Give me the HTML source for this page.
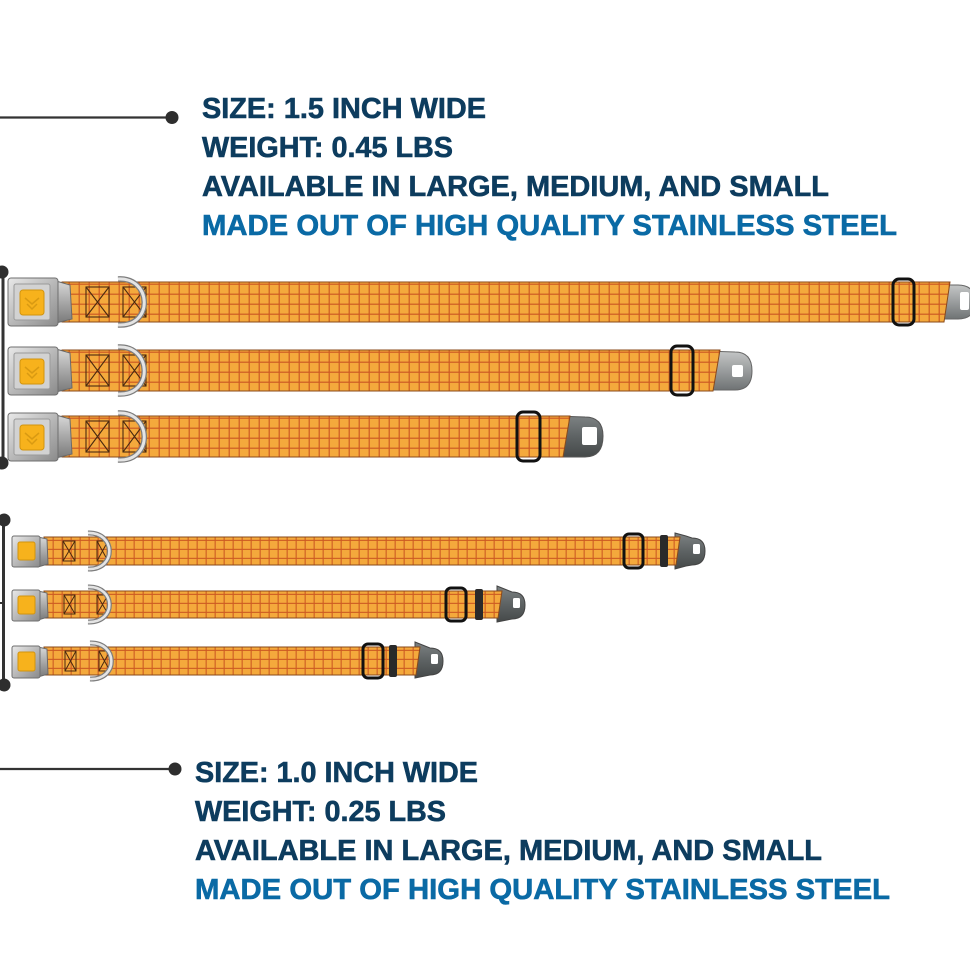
<!DOCTYPE html>
<html><head><meta charset="utf-8">
<style>
html,body{margin:0;padding:0;background:#fff;}
svg{display:block;}
.t{font-family:"Liberation Sans",sans-serif;font-weight:bold;font-size:29px;stroke-width:0.6px;}
.n{fill:#0d3c5e;stroke:#0d3c5e;}
.b{fill:#0a6aa5;stroke:#0a6aa5;}
</style></head>
<body>
<svg width="970" height="971" viewBox="0 0 970 971" xmlns="http://www.w3.org/2000/svg">
<defs>
  <pattern id="gL" width="10" height="10" patternUnits="userSpaceOnUse">
    <rect width="10" height="10" fill="#f4a93c"/>
    <rect x="8.6" width="1.2" height="10" fill="#cd5a22"/>
    <rect y="1.6" width="10" height="1.2" fill="#cd5a22"/>
  </pattern>
  <pattern id="gS" width="9" height="9" patternUnits="userSpaceOnUse">
    <rect width="9" height="9" fill="#f4a93c"/>
    <rect x="7.6" width="1.1" height="9" fill="#cd5a22"/>
    <rect y="2.8" width="9" height="1.1" fill="#cd5a22"/>
  </pattern>
  <linearGradient id="metal" x1="0" y1="0" x2="1" y2="1">
    <stop offset="0" stop-color="#e9e9e9"/>
    <stop offset="0.5" stop-color="#b9b9b9"/>
    <stop offset="1" stop-color="#8a8a8a"/>
  </linearGradient>
  <linearGradient id="metal2" x1="0" y1="0" x2="0" y2="1">
    <stop offset="0" stop-color="#d8d8d8"/>
    <stop offset="0.5" stop-color="#a8a8a8"/>
    <stop offset="1" stop-color="#7a7a7a"/>
  </linearGradient>
  <linearGradient id="tabL" x1="0" y1="0" x2="0" y2="1">
    <stop offset="0" stop-color="#c4c6c6"/>
    <stop offset="0.5" stop-color="#9a9d9e"/>
    <stop offset="1" stop-color="#6f7374"/>
  </linearGradient>
  <linearGradient id="tabD" x1="0" y1="0" x2="0" y2="1">
    <stop offset="0" stop-color="#7d8283"/>
    <stop offset="0.5" stop-color="#5e6364"/>
    <stop offset="1" stop-color="#454949"/>
  </linearGradient>
</defs>

<!-- Leader lines -->
<line x1="0" y1="117.5" x2="172" y2="117.5" stroke="#333" stroke-width="2.2"/>
<circle cx="172" cy="117.5" r="6.5" fill="#2e2e2e"/>
<line x1="0" y1="769" x2="175" y2="769" stroke="#333" stroke-width="2.2"/>
<circle cx="175" cy="769" r="6.5" fill="#2e2e2e"/>

<!-- Brackets -->
<line x1="3" y1="272" x2="3" y2="463" stroke="#333" stroke-width="3"/>
<circle cx="2" cy="272" r="6.5" fill="#2e2e2e"/>
<circle cx="2" cy="463" r="6.5" fill="#2e2e2e"/>
<line x1="3.5" y1="520" x2="3.5" y2="685" stroke="#333" stroke-width="3"/>
<circle cx="4" cy="520" r="6.5" fill="#2e2e2e"/>
<circle cx="4" cy="685" r="6.5" fill="#2e2e2e"/>
<line x1="0" y1="603" x2="5" y2="603" stroke="#333" stroke-width="2"/>

<!-- Text block 1 -->
<text class="t n" x="202" y="118" textLength="284" lengthAdjust="spacingAndGlyphs">SIZE: 1.5 INCH WIDE</text>
<text class="t n" x="202" y="157" textLength="251" lengthAdjust="spacingAndGlyphs">WEIGHT: 0.45 LBS</text>
<text class="t n" x="202" y="196" textLength="627" lengthAdjust="spacingAndGlyphs">AVAILABLE IN LARGE, MEDIUM, AND SMALL</text>
<text class="t b" x="202" y="235" textLength="695" lengthAdjust="spacingAndGlyphs">MADE OUT OF HIGH QUALITY STAINLESS STEEL</text>

<!-- Text block 2 -->
<text class="t n" x="195" y="782" textLength="283" lengthAdjust="spacingAndGlyphs">SIZE: 1.0 INCH WIDE</text>
<text class="t n" x="195" y="821" textLength="251" lengthAdjust="spacingAndGlyphs">WEIGHT: 0.25 LBS</text>
<text class="t n" x="195" y="860" textLength="627" lengthAdjust="spacingAndGlyphs">AVAILABLE IN LARGE, MEDIUM, AND SMALL</text>
<text class="t b" x="195" y="899" textLength="695" lengthAdjust="spacingAndGlyphs">MADE OUT OF HIGH QUALITY STAINLESS STEEL</text>

<!-- ===== Large collar 1 ===== -->
<g transform="translate(0,282)">
  <path d="M935,3 L958,3 Q975,3 975,20 Q975,37 958,37 L935,37 Z" fill="url(#tabL)" stroke="#666"/>
  <rect x="960" y="10" width="9" height="18" rx="2" fill="#fff"/>
  <path d="M62,0 L950,0 L944,40 L62,40 Z" fill="url(#gL)" stroke="#8a4a1a" stroke-width="1"/>
  <g fill="none" stroke="#4a2a10" stroke-width="1.1">
    <rect x="86" y="5" width="23" height="30"/><path d="M86,5 L109,35 M109,5 L86,35"/>
    <rect x="123" y="5" width="23" height="30"/><path d="M123,5 L146,35 M146,5 L123,35"/>
  </g>
  <path d="M118,-3 C152,-5 154,45 118,43" fill="none" stroke="#7d7d7d" stroke-width="5.5"/>
  <path d="M118,-3 C152,-5 154,45 118,43" fill="none" stroke="#e4e4e4" stroke-width="3"/>
  <rect x="893" y="-3" width="21" height="46" rx="6" fill="none" stroke="#111" stroke-width="3"/>
  <path d="M56,-1 L70,3 L72,37 L56,41 Z" fill="url(#metal2)" stroke="#6a6a6a"/>
  <rect x="8" y="-4" width="50" height="48" rx="3" fill="url(#metal)" stroke="#6f6f6f"/>
  <rect x="14" y="2" width="36" height="36" rx="2" fill="#d2d2d2" stroke="#9a9a9a"/>
  <rect x="20" y="8" width="24" height="25" rx="3" fill="#f7b21c" stroke="#d2940e"/>
  <path d="M25,16 L32,22 L39,16 M27,22 L32,27 L37,22" fill="none" stroke="#d99a12" stroke-width="1.5"/>
</g>

<!-- ===== Large collar 2 ===== -->
<g transform="translate(0,350)">
  <path d="M705,1 L735,2 Q752,2 752,21 Q752,40 735,40 L705,40 Z" fill="url(#tabL)" stroke="#666"/>
  <rect x="732" y="15" width="11" height="12" rx="2" fill="#fff"/>
  <path d="M62,0 L720,0 L713,41 L62,41 Z" fill="url(#gL)" stroke="#8a4a1a" stroke-width="1"/>
  <g fill="none" stroke="#4a2a10" stroke-width="1.1">
    <rect x="86" y="5" width="23" height="31"/><path d="M86,5 L109,36 M109,5 L86,36"/>
    <rect x="123" y="5" width="23" height="31"/><path d="M123,5 L146,36 M146,5 L123,36"/>
  </g>
  <path d="M118,-3 C152,-5 154,46 118,44" fill="none" stroke="#7d7d7d" stroke-width="5.5"/>
  <path d="M118,-3 C152,-5 154,46 118,44" fill="none" stroke="#e4e4e4" stroke-width="3"/>
  <rect x="671" y="-4" width="22" height="49" rx="6" fill="none" stroke="#111" stroke-width="3"/>
  <path d="M56,-1 L70,3 L72,38 L56,42 Z" fill="url(#metal2)" stroke="#6a6a6a"/>
  <rect x="8" y="-3" width="50" height="48" rx="3" fill="url(#metal)" stroke="#6f6f6f"/>
  <rect x="14" y="3" width="36" height="36" rx="2" fill="#d2d2d2" stroke="#9a9a9a"/>
  <rect x="20" y="9" width="24" height="25" rx="3" fill="#f7b21c" stroke="#d2940e"/>
  <path d="M25,17 L32,23 L39,17 M27,23 L32,28 L37,23" fill="none" stroke="#d99a12" stroke-width="1.5"/>
</g>

<!-- ===== Large collar 3 ===== -->
<g transform="translate(0,416)">
  <path d="M555,0 L585,1 Q603,1 603,20 Q603,41 585,41 L555,41 Z" fill="url(#tabD)" stroke="#555"/>
  <rect x="582" y="11" width="15" height="18" rx="2" fill="#fff"/>
  <path d="M62,0 L570,0 L563,41 L62,41 Z" fill="url(#gL)" stroke="#8a4a1a" stroke-width="1"/>
  <g fill="none" stroke="#4a2a10" stroke-width="1.1">
    <rect x="86" y="5" width="23" height="31"/><path d="M86,5 L109,36 M109,5 L86,36"/>
    <rect x="123" y="5" width="23" height="31"/><path d="M123,5 L146,36 M146,5 L123,36"/>
  </g>
  <path d="M118,-3 C152,-5 154,46 118,44" fill="none" stroke="#7d7d7d" stroke-width="5.5"/>
  <path d="M118,-3 C152,-5 154,46 118,44" fill="none" stroke="#e4e4e4" stroke-width="3"/>
  <rect x="517" y="-4" width="23" height="49" rx="6" fill="none" stroke="#111" stroke-width="3"/>
  <path d="M56,-1 L70,3 L72,38 L56,42 Z" fill="url(#metal2)" stroke="#6a6a6a"/>
  <rect x="8" y="-3" width="50" height="48" rx="3" fill="url(#metal)" stroke="#6f6f6f"/>
  <rect x="14" y="3" width="36" height="36" rx="2" fill="#d2d2d2" stroke="#9a9a9a"/>
  <rect x="20" y="9" width="24" height="25" rx="3" fill="#f7b21c" stroke="#d2940e"/>
  <path d="M25,17 L32,23 L39,17 M27,23 L32,28 L37,23" fill="none" stroke="#d99a12" stroke-width="1.5"/>
</g>

<!-- ===== Small collar 4 ===== -->
<g transform="translate(0,537)">
  <path d="M675,-4 L686,-1 L692,1 Q705,1 705,14 Q705,28 692,28 L686,29 L675,32 Z" fill="url(#tabD)" stroke="#444"/>
  <rect x="693" y="7" width="7" height="10" rx="1.5" fill="#fff"/>
  <path d="M44,0 L680,0 L676,28 L44,28 Z" fill="url(#gS)" stroke="#8a4a1a" stroke-width="1"/>
  <g fill="none" stroke="#4a2a10" stroke-width="1">
    <rect x="63" y="4" width="12" height="20"/><path d="M63,4 L75,24 M75,4 L63,24"/>
    <rect x="97" y="4" width="11" height="20"/><path d="M97,4 L108,24 M108,4 L97,24"/>
  </g>
  <path d="M88,-4 C116,-5 117,33 88,32" fill="none" stroke="#7d7d7d" stroke-width="5"/>
  <path d="M88,-4 C116,-5 117,33 88,32" fill="none" stroke="#e4e4e4" stroke-width="2.6"/>
  <rect x="624" y="-3" width="19" height="34" rx="5" fill="none" stroke="#111" stroke-width="3"/>
  <rect x="660" y="-2" width="8" height="32" rx="2" fill="#2a2a2a"/>
  <path d="M38,0 L47,2 L48,27 L38,30 Z" fill="url(#metal2)" stroke="#6a6a6a"/>
  <rect x="12" y="-1" width="28" height="31" rx="2" fill="url(#metal)" stroke="#6f6f6f"/>
  <rect x="18" y="5" width="17" height="18" rx="2" fill="#f7b21c" stroke="#d2940e"/>
</g>

<!-- ===== Small collar 5 ===== -->
<g transform="translate(0,591)">
  <path d="M497,-5 L507,-1 L512,1 Q525,1 525,14 Q525,28 512,28 L507,29 L497,31 Z" fill="url(#tabD)" stroke="#444"/>
  <rect x="513" y="7" width="7" height="10" rx="1.5" fill="#fff"/>
  <path d="M44,0 L502,0 L498,27 L44,27 Z" fill="url(#gS)" stroke="#8a4a1a" stroke-width="1"/>
  <g fill="none" stroke="#4a2a10" stroke-width="1">
    <rect x="64" y="4" width="11" height="19"/><path d="M64,4 L75,23 M75,4 L64,23"/>
    <rect x="97" y="4" width="11" height="19"/><path d="M97,4 L108,23 M108,4 L97,23"/>
  </g>
  <path d="M88,-4 C116,-5 117,32 88,31" fill="none" stroke="#7d7d7d" stroke-width="5"/>
  <path d="M88,-4 C116,-5 117,32 88,31" fill="none" stroke="#e4e4e4" stroke-width="2.6"/>
  <rect x="446" y="-3" width="20" height="33" rx="5" fill="none" stroke="#111" stroke-width="3"/>
  <rect x="475" y="-2" width="8" height="31" rx="2" fill="#2a2a2a"/>
  <path d="M38,0 L47,2 L48,26 L38,29 Z" fill="url(#metal2)" stroke="#6a6a6a"/>
  <rect x="12" y="-1" width="28" height="31" rx="2" fill="url(#metal)" stroke="#6f6f6f"/>
  <rect x="18" y="5" width="17" height="18" rx="2" fill="#f7b21c" stroke="#d2940e"/>
</g>

<!-- ===== Small collar 6 ===== -->
<g transform="translate(0,647)">
  <path d="M415,-5 L425,-1 L430,1 Q443,1 443,14 Q443,28 430,28 L425,29 L415,31 Z" fill="url(#tabD)" stroke="#444"/>
  <rect x="431" y="7" width="7" height="10" rx="1.5" fill="#fff"/>
  <path d="M44,0 L420,0 L416,28 L44,28 Z" fill="url(#gS)" stroke="#8a4a1a" stroke-width="1"/>
  <g fill="none" stroke="#4a2a10" stroke-width="1">
    <rect x="65" y="4" width="11" height="20"/><path d="M65,4 L76,24 M76,4 L65,24"/>
    <rect x="99" y="4" width="11" height="20"/><path d="M99,4 L110,24 M110,4 L99,24"/>
  </g>
  <path d="M90,-4 C118,-5 119,33 90,32" fill="none" stroke="#7d7d7d" stroke-width="5"/>
  <path d="M90,-4 C118,-5 119,33 90,32" fill="none" stroke="#e4e4e4" stroke-width="2.6"/>
  <rect x="363" y="-3" width="20" height="34" rx="5" fill="none" stroke="#111" stroke-width="3"/>
  <rect x="389" y="-2" width="8" height="32" rx="2" fill="#2a2a2a"/>
  <path d="M38,0 L47,2 L48,27 L38,30 Z" fill="url(#metal2)" stroke="#6a6a6a"/>
  <rect x="12" y="-1" width="28" height="32" rx="2" fill="url(#metal)" stroke="#6f6f6f"/>
  <rect x="18" y="5" width="17" height="19" rx="2" fill="#f7b21c" stroke="#d2940e"/>
</g>
</svg>
</body></html>
